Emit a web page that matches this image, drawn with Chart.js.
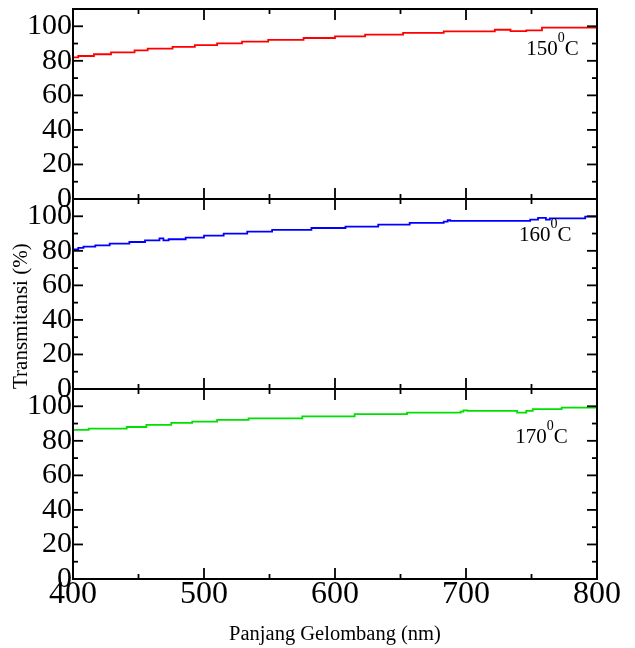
<!DOCTYPE html>
<html><head><meta charset="utf-8">
<script src="https://cdn.jsdelivr.net/npm/chart.js@4"></script>
<style>html,body{margin:0;padding:0;background:#fff}canvas{display:block}</style>
</head><body>
<canvas id="c" width="635" height="648"></canvas>
<script>
// ---- data ----
const wl150 = [400, 404, 416, 429, 447, 457, 476, 493, 510, 529, 549, 576, 600, 623, 652, 683, 722, 734, 746, 758, 800];
const t150  = [82.0, 82.8, 83.8, 84.9, 86.0, 87.1, 88.1, 89.1, 90.1, 91.1, 92.1, 93.2, 94.2, 95.2, 96.2, 97.1, 98.0, 97.2, 97.6, 99.2, 99.4];

const wl160 = [400, 404, 408, 417, 428, 443, 455, 466, 469, 473, 486, 500, 515, 533, 552, 582, 608, 633, 657, 683, 686, 688, 749, 755, 761, 764, 791, 800];
const t160  = [80.8, 81.7, 82.4, 83.2, 84.2, 85.1, 86.1, 87.2, 86.1, 86.7, 87.6, 88.8, 90.0, 91.1, 92.1, 93.2, 94.0, 95.2, 96.2, 96.9, 97.7, 97.3, 98.1, 99.1, 98.1, 98.8, 99.8, 99.8];

const wl170 = [400, 412, 441, 456, 475, 491, 510, 534, 575, 615, 655, 696, 698, 701, 739, 746, 751, 773, 800];
const t170  = [86.3, 87.1, 88.0, 89.2, 90.4, 91.1, 92.1, 93.0, 94.2, 95.4, 96.3, 96.9, 97.6, 97.3, 96.3, 97.3, 98.3, 99.2, 99.6];

const temps = ['150', '160', '170'];
const xLimits = [400, 800];
const xStep = 100;
const yLimits = [0, 110];
const yStep = 20;
const xTitle = 'Panjang Gelombang (nm)';
const yTitle = 'Transmitansi (%)';

const SERIF = '"Liberation Serif","Times New Roman",serif';

function pts(xs, ys) { return xs.map((x, i) => ({x: x, y: ys[i]})); }

const framePlugin = {
  id: 'frame',
  afterDraw(chart, args, opts) {
    const {ctx, chartArea: a, scales} = chart;
    const xs = scales.x;
    ctx.save();
    ctx.strokeStyle = '#000';
    ctx.lineCap = 'butt';
    const seg = (x1, y1, x2, y2) => { ctx.beginPath(); ctx.moveTo(x1, y1); ctx.lineTo(x2, y2); ctx.stroke(); };
    ['yTop', 'yMid', 'yBot'].forEach(id => {
      const s = scales[id];
      ctx.lineWidth = 2;
      ctx.strokeRect(a.left, s.top, a.right - a.left, s.bottom - s.top);
      ctx.lineWidth = 1.8;
      const yv = s.ticks.map(t => t.value);
      const yt = (v, len) => { const p = s.getPixelForValue(v); seg(a.left, p, a.left + len, p); seg(a.right, p, a.right - len, p); };
      yv.forEach(v => yt(v, 10));
      for (let i = 0; i < yv.length - 1; i++) yt((yv[i] + yv[i + 1]) / 2, 5);
      const xv = xs.ticks.map(t => t.value);
      const xt = (v, len) => { const p = xs.getPixelForValue(v); seg(p, s.top, p, s.top + len); seg(p, s.bottom, p, s.bottom - len); };
      xv.forEach(v => xt(v, 11));
      for (let i = 0; i < xv.length - 1; i++) xt((xv[i] + xv[i + 1]) / 2, 5);
    });
    // panel labels
    ctx.fillStyle = '#000';
    ctx.textBaseline = 'alphabetic';
    ctx.textAlign = 'left';
    (opts.labels || []).forEach(l => {
      const s = scales[l.scale];
      let px = xs.getPixelForValue(l.x);
      const py = s.getPixelForValue(l.y);
      ctx.font = '21px ' + SERIF;
      ctx.fillText(l.text, px, py);
      px += ctx.measureText(l.text).width;
      ctx.font = '14px ' + SERIF;
      ctx.fillText('0', px, py - 13);
      px += ctx.measureText('0').width;
      ctx.font = '21px ' + SERIF;
      ctx.fillText('C', px, py);
    });
    ctx.restore();
  }
};

function yScale(withTitle) {
  return {
    type: 'linear', position: 'left', stack: 'panels', stackWeight: 1,
    min: yLimits[0], max: yLimits[1],
    grid: {display: false, drawTicks: false},
    border: {display: false},
    ticks: {stepSize: yStep, includeBounds: false, autoSkip: false, padding: 1, color: '#000',
            font: {family: SERIF, size: 30, lineHeight: 1}},
    title: withTitle ? {display: true, text: yTitle, align: 'start', color: '#000',
            font: {family: SERIF, size: 21, lineHeight: 1.2}, padding: {top: 9, bottom: 0}} : {display: false},
    afterFit: s => { s.width = 73; s.paddingTop = 0; s.paddingBottom = 0; }
  };
}

new Chart(document.getElementById('c'), {
  type: 'line',
  data: {
    datasets: [
      {label: temps[0], data: pts(wl150, t150), yAxisID: 'yTop', borderColor: '#ff0000'},
      {label: temps[1], data: pts(wl160, t160), yAxisID: 'yMid', borderColor: '#0000ff'},
      {label: temps[2], data: pts(wl170, t170), yAxisID: 'yBot', borderColor: '#00e000'}
    ].map(d => Object.assign(d, {xAxisID: 'x', borderWidth: 1.8, pointRadius: 0, stepped: 'before', fill: false, tension: 0}))
  },
  options: {
    responsive: false, animation: false,
    layout: {padding: {top: 9, right: 38, left: 0, bottom: 0}},
    plugins: {
      legend: {display: false}, tooltip: {enabled: false},
      frame: {labels: [
        {text: temps[0], scale: 'yTop', x: 746, y: 83.6},
        {text: temps[1], scale: 'yMid', x: 740.5, y: 85.5},
        {text: temps[2], scale: 'yBot', x: 737.5, y: 78.8}
      ]}
    },
    scales: {
      x: {
        type: 'linear', position: 'bottom', min: xLimits[0], max: xLimits[1],
        grid: {display: false, drawTicks: false}, border: {display: false},
        ticks: {stepSize: xStep, padding: 0, color: '#000', maxRotation: 0, autoSkip: false,
                font: {family: SERIF, size: 32, lineHeight: 1}},
        title: {display: true, text: xTitle, color: '#000',
                font: {family: SERIF, size: 20.5, lineHeight: 1.2}, padding: {top: 0, bottom: 1}},
        afterFit: s => { s.height = 69; s.paddingLeft = 0; s.paddingRight = 0; }
      },
      yBot: yScale(false),
      yMid: yScale(true),
      yTop: yScale(false)
    }
  },
  plugins: [framePlugin]
});
</script>
</body></html>
